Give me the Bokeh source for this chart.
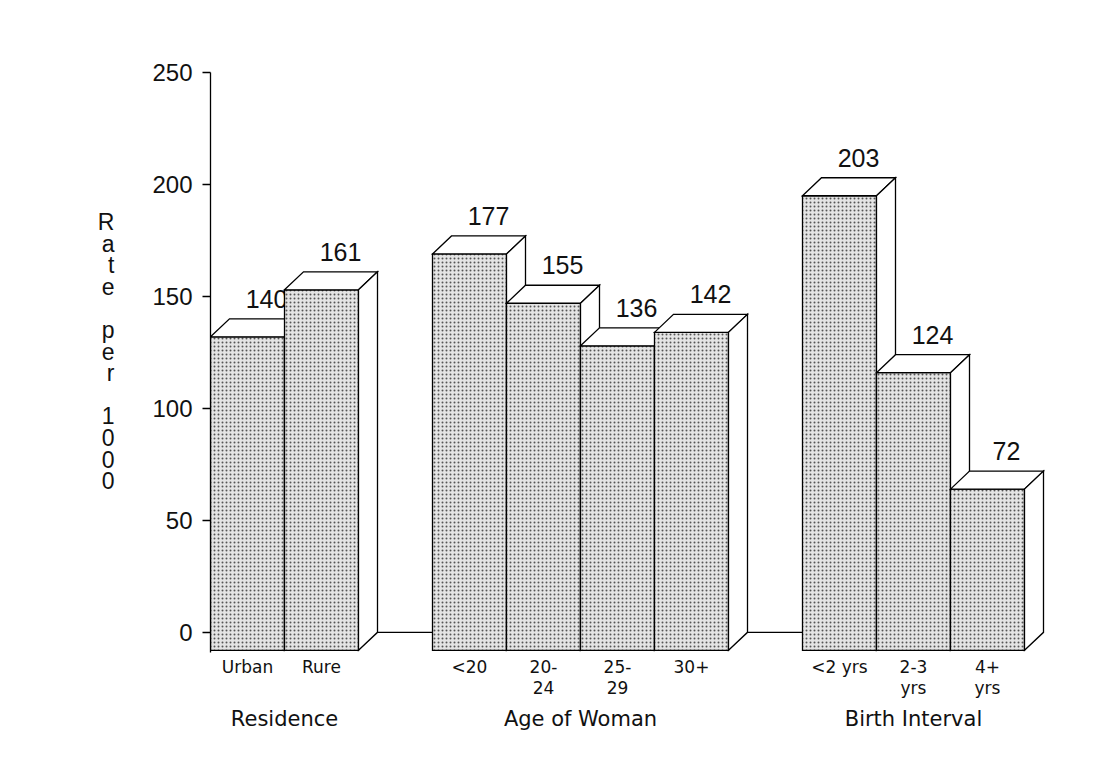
from bokeh.plotting import figure
from bokeh.models import Range1d, FixedTicker, LinearAxis, ColumnDataSource
from bokeh.embed import file_html
from bokeh.resources import INLINE
from bokeh.core.properties import value

# ---- data ----
groups = ["Residence", "Age of Woman", "Birth Interval"]
group_sizes = [2, 4, 3]
categories = ["Urban", "Rure", "<20", "20-\n24", "25-\n29", "30+", "<2 yrs", "2-3\nyrs", "4+\nyrs"]
values = [140, 161, 177, 155, 136, 142, 203, 124, 72]
value_labels = ["140", "161", "177", "155", "136", "142", "203", "124", "72"]
y_ticks = [0, 50, 100, 150, 200, 250]
y_label = "Rate per 1000"

# ---- layout ----
W = 1.0          # bar width (data units)
GAP = 1.0        # gap between groups
DX = 19 / 74     # 3-D depth offset in x (data units)
DY = 18 / 2.24   # 3-D depth offset in y (data units)

x0 = []
group_start = []
group_end = []
pos = 0.0
for n in group_sizes:
    group_start.append(pos)
    for k in range(n):
        x0.append(pos + k * W)
    pos += n * W
    group_end.append(pos)
    pos += GAP

centers = [x + W / 2 for x in x0]
group_centers = [(s + e) / 2 for s, e in zip(group_start, group_end)]

p = figure(frame_width=851, frame_height=580,
           x_range=Range1d(0, 11.5), y_range=Range1d(-9, 250),
           output_backend="svg", toolbar_location=None, x_axis_location=None,
           min_border_left=210, min_border_right=42, min_border_top=72, min_border_bottom=99)
p.grid.visible = False
p.outline_line_color = None
p.background_fill_color = "white"
p.border_fill_color = "white"

# y axis
ya = p.yaxis[0]
ya.ticker = FixedTicker(ticks=y_ticks)
ya.major_tick_out = 8
ya.major_tick_in = 0
ya.minor_tick_line_color = None
ya.axis_line_width = 1.3
ya.major_tick_line_width = 1.3
ya.major_label_standoff = 10
ya.major_label_text_font = "Liberation Sans"
ya.major_label_text_font_size = "24px"
ya.major_label_text_color = "#111111"
ya.axis_label = "\n\n".join("\n".join(word) for word in y_label.split()) + "\n "
ya.axis_label_orientation = "horizontal"
ya.axis_label_text_font = "Liberation Sans"
ya.axis_label_text_font_size = "23px"
ya.axis_label_text_font_style = "normal"
ya.axis_label_text_line_height = 0.83
ya.axis_label_text_color = "#111111"
ya.axis_label_standoff = 35

# x axes (category labels and group labels)
ax1 = LinearAxis(ticker=FixedTicker(ticks=centers),
                 major_label_overrides={c: lab for c, lab in zip(centers, categories)},
                 axis_line_color=None, major_tick_line_color=None, minor_tick_line_color=None,
                 major_label_standoff=-2, major_label_text_font="DejaVu Sans",
                 major_label_text_font_size="17px", major_label_text_line_height=1.06,
                 major_label_text_color="#111111")
ax2 = LinearAxis(ticker=FixedTicker(ticks=group_centers),
                 major_label_overrides={c: g for c, g in zip(group_centers, groups)},
                 axis_line_color=None, major_tick_line_color=None, minor_tick_line_color=None,
                 major_label_standoff=0, major_label_text_font="DejaVu Sans",
                 major_label_text_font_size="21px", major_label_text_color="#111111")
p.add_layout(ax1, "below")
p.add_layout(ax2, "below")

# floor lines between groups (back baseline at 0)
p.segment(x0=[e + DX for e in group_end[:-1]], y0=[0] * (len(groups) - 1),
          x1=group_start[1:], y1=[0] * (len(groups) - 1), line_color="black", line_width=1.4)

# value labels (drawn before bars so that later bars may cover them)
p.text(x=[x + W / 2 + DX for x in x0], y=[v + 9 for v in values], text=value_labels,
       text_align="center", text_baseline="alphabetic",
       text_font=value("Liberation Sans"), text_font_size="25px", text_color="#111111")

# 3-D bars: front, top, side faces, in drawing order
xs, ys, fills, hatches = [], [], [], []
for x, v in zip(x0, values):
    # front
    xs.append([x, x + W, x + W, x])
    ys.append([-DY, -DY, v - DY, v - DY])
    fills.append("#e4e4e4"); hatches.append("dot")
    # top
    xs.append([x, x + DX, x + W + DX, x + W])
    ys.append([v - DY, v, v, v - DY])
    fills.append("white"); hatches.append(" ")
    # side
    xs.append([x + W, x + W + DX, x + W + DX, x + W])
    ys.append([-DY, 0, v, v - DY])
    fills.append("white"); hatches.append(" ")

src = ColumnDataSource(dict(xs=xs, ys=ys, fill=fills, hatch=hatches))
p.patches(xs="xs", ys="ys", source=src, fill_color="fill", hatch_pattern="hatch",
          hatch_color="#555555", hatch_scale=4, hatch_weight=1,
          line_color="black", line_width=1.3, line_join="miter")

open("out.html", "w").write(file_html(p, INLINE))
